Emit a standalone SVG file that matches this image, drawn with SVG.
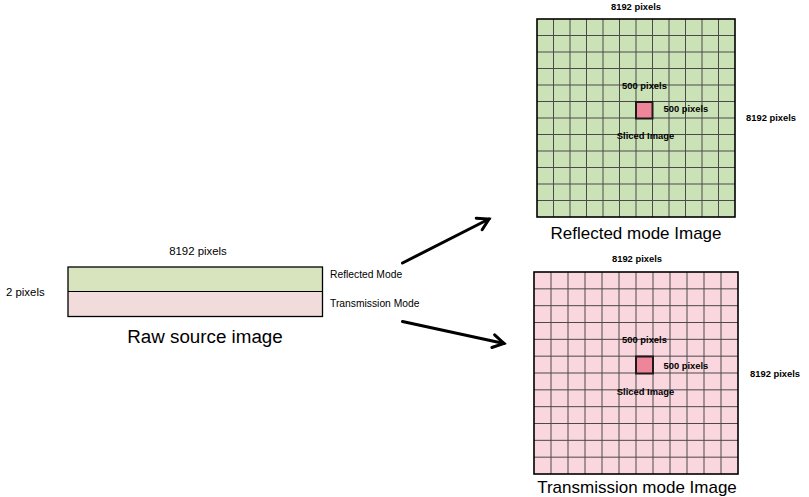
<svg xmlns="http://www.w3.org/2000/svg" width="809" height="497" viewBox="0 0 809 497">
<style>
.lbl{font-family:"Liberation Sans",Arial,sans-serif;fill:#000}
.sm{font-size:9.4px;font-weight:bold}
.big{font-size:17px}
.rs{font-size:11.4px}
.md{font-size:10.3px}
.grid{stroke:#4a4a4a;stroke-width:1;fill:none}
.frame{stroke:#000;stroke-width:1.6}
.slice{fill:#ee8598;stroke:#1a1a1a;stroke-width:2}
.conn{stroke:#000;stroke-width:3;fill:none;stroke-linecap:round}
</style>
<defs>
<marker id="arr" markerUnits="userSpaceOnUse" markerWidth="30" markerHeight="30" viewBox="-15 -15 30 30" refX="0" refY="0" orient="auto" overflow="visible">
<path d="M-11,-6.5 L0,0 L-11,6.5" fill="none" stroke="#000" stroke-width="3" stroke-linecap="round" stroke-linejoin="miter"/>
</marker>
</defs>
<rect width="809" height="497" fill="#fff"/>

<g id="raw-source">
<rect x="68" y="267" width="254.5" height="24.5" fill="#d7e4bd"/>
<rect x="68" y="291.5" width="254.5" height="25" fill="#f2dcdb"/>
<rect x="68" y="267" width="254.5" height="49.5" fill="none" stroke="#000" stroke-width="1.3"/>
<line x1="68" y1="291.5" x2="322.5" y2="291.5" stroke="#000" stroke-width="1"/>
<text class="lbl rs" x="198" y="254.5" text-anchor="middle">8192 pixels</text>
<text class="lbl rs" x="6" y="295.5">2 pixels</text>
<text class="lbl md" x="330" y="278">Reflected Mode</text>
<text class="lbl md" x="330" y="306.5">Transmission Mode</text>
<text class="lbl" x="205" y="343" font-size="18.8px" text-anchor="middle">Raw source image</text>
</g>

<g id="reflected-image">
<rect x="537" y="19" width="198" height="198" fill="#cae2b6"/>
<path class="grid" d="M553.5,19V217M570,19V217M586.5,19V217M603,19V217M619.5,19V217M636,19V217M652.5,19V217M669,19V217M685.5,19V217M702,19V217M718.5,19V217M537,35.5H735M537,52H735M537,68.5H735M537,85H735M537,101.5H735M537,118H735M537,134.5H735M537,151H735M537,167.5H735M537,184H735M537,200.5H735"/>
<rect class="frame" x="537" y="19" width="198" height="198" fill="none"/>
<rect class="slice" x="636" y="102" width="16.5" height="16.5"/>
<text class="lbl sm" x="636" y="10" text-anchor="middle">8192 pixels</text>
<text class="lbl sm" x="644.5" y="89" text-anchor="middle">500 pixels</text>
<text class="lbl sm" x="663.5" y="112">500 pixels</text>
<text class="lbl sm" x="645.5" y="138.5" text-anchor="middle">Sliced Image</text>
<text class="lbl sm" x="746" y="121">8192 pixels</text>
<text class="lbl big" x="636" y="239" text-anchor="middle">Reflected mode Image</text>
</g>

<g id="transmission-image">
<rect x="534" y="272" width="204" height="202" fill="#fad6de"/>
<path class="grid" d="M551,272V474M568,272V474M585,272V474M602,272V474M619,272V474M636,272V474M653,272V474M670,272V474M687,272V474M704,272V474M721,272V474M534,288.83H738M534,305.67H738M534,322.5H738M534,339.33H738M534,356.17H738M534,373H738M534,389.83H738M534,406.67H738M534,423.5H738M534,440.33H738M534,457.17H738"/>
<rect class="frame" x="534" y="272" width="204" height="202" fill="none"/>
<rect class="slice" x="636" y="356.5" width="17" height="17"/>
<text class="lbl sm" x="637" y="262" text-anchor="middle">8192 pixels</text>
<text class="lbl sm" x="644.5" y="343" text-anchor="middle">500 pixels</text>
<text class="lbl sm" x="663.5" y="368.5">500 pixels</text>
<text class="lbl sm" x="645.5" y="394.5" text-anchor="middle">Sliced Image</text>
<text class="lbl sm" x="750" y="377">8192 pixels</text>
<text class="lbl big" x="637" y="493" text-anchor="middle">Transmission mode Image</text>
</g>

<g id="connectors">
<line class="conn" x1="402.5" y1="263" x2="489" y2="219" marker-end="url(#arr)"/>
<line class="conn" x1="402.5" y1="321.5" x2="504" y2="343.5" marker-end="url(#arr)"/>
</g>
</svg>
